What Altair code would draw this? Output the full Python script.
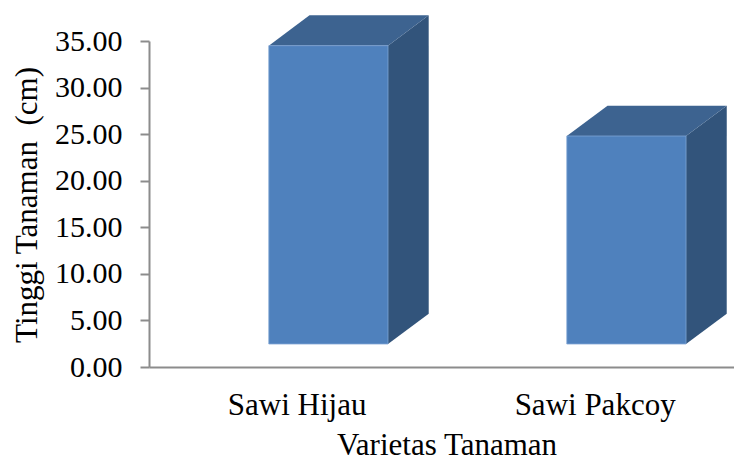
import altair as alt
import pandas as pd

# ---- data ----
categories = ["Sawi Hijau", "Sawi Pakcoy"]
heights = [34.5, 24.8]
y_ticks = [0, 5, 10, 15, 20, 25, 30, 35]

# ---- 3-D look (style constants) ----
FLOOR = 2.47      # front floor level, value units
HALF = 0.2        # half width of front face, category units
DX = 0.1366       # depth offset along x
DY = 3.26         # depth offset along y
LABEL_SHIFT = -0.105
FONT = "Liberation Serif"

front = pd.DataFrame({"cat": categories,
                      "pos": list(range(len(categories))),
                      "h": heights})
front["x0"] = front["pos"] - HALF
front["x1"] = front["pos"] + HALF
front["y0"] = FLOOR
front["lx"] = front["pos"] + LABEL_SHIFT

rows = []
for c, p, h in zip(categories, range(len(categories)), heights):
    for d in (0, 1):
        rows.append({"cat": c,
                     "sx": p + HALF + d * DX,
                     "sy": h + d * DY,
                     "sy2": FLOOR + d * DY,
                     "tx": p - HALF + d * DX,
                     "tx2": p + HALF + d * DX})
depth = pd.DataFrame(rows)

xs = alt.Scale(domain=[-0.602, 1.361], nice=False, zero=False)
ys = alt.Scale(domain=[0, 35], nice=False)

x_axis = alt.Axis(title="Varietas Tanaman", labels=False, ticks=False, grid=False,
                  domainColor="#8C8C8C", domainWidth=2,
                  titleFont=FONT, titleFontSize=31, titleFontWeight="normal",
                  titleColor="black", titleX=297.5, titleY=87.5,
                  titleBaseline="alphabetic", titleAlign="center")
y_axis = alt.Axis(title="Tinggi Tanaman \u00a0(cm)", values=y_ticks, format=".2f",
                  grid=False, domainColor="#8C8C8C", domainWidth=2,
                  tickColor="#8C8C8C", tickWidth=2, tickSize=9,
                  labelFont=FONT, labelFontSize=30, labelColor="black",
                  labelPadding=18,
                  titleFont=FONT, titleFontSize=31, titleFontWeight="normal",
                  titleColor="black", titleX=-112.5, titleY=163.5,
                  titleAngle=-90, titleBaseline="alphabetic", titleAlign="center")

side = alt.Chart(depth).mark_area(color="#32547B", orient="vertical").encode(
    x=alt.X("sx:Q", scale=xs, axis=x_axis),
    y=alt.Y("sy:Q", scale=ys, axis=y_axis),
    y2="sy2:Q",
    detail="cat:N",
)

top = alt.Chart(depth).mark_area(color="#3D6390", orient="horizontal").encode(
    y=alt.Y("sy:Q", scale=ys),
    x=alt.X("tx:Q", scale=xs),
    x2="tx2:Q",
    detail="cat:N",
)

face = alt.Chart(front).mark_rect(color="#4F81BD", stroke="#7FA4D4", strokeWidth=0.8).encode(
    x=alt.X("x0:Q", scale=xs),
    x2="x1:Q",
    y=alt.Y("h:Q", scale=ys),
    y2="y0:Q",
)

labels = alt.Chart(front).mark_text(font=FONT, fontSize=31, color="black",
                                    baseline="alphabetic", align="center").encode(
    x=alt.X("lx:Q", scale=xs),
    y=alt.value(374),
    text="cat:N",
)

chart = alt.layer(side, top, face, labels).properties(
    width=585, height=326,
    autosize=alt.AutoSizeParams(type="none"),
    padding={"left": 149, "top": 41, "right": 0, "bottom": 94},
    background="white",
).configure_view(stroke=None)

chart.save("out.html", embed_options={"renderer": "svg", "actions": False})
